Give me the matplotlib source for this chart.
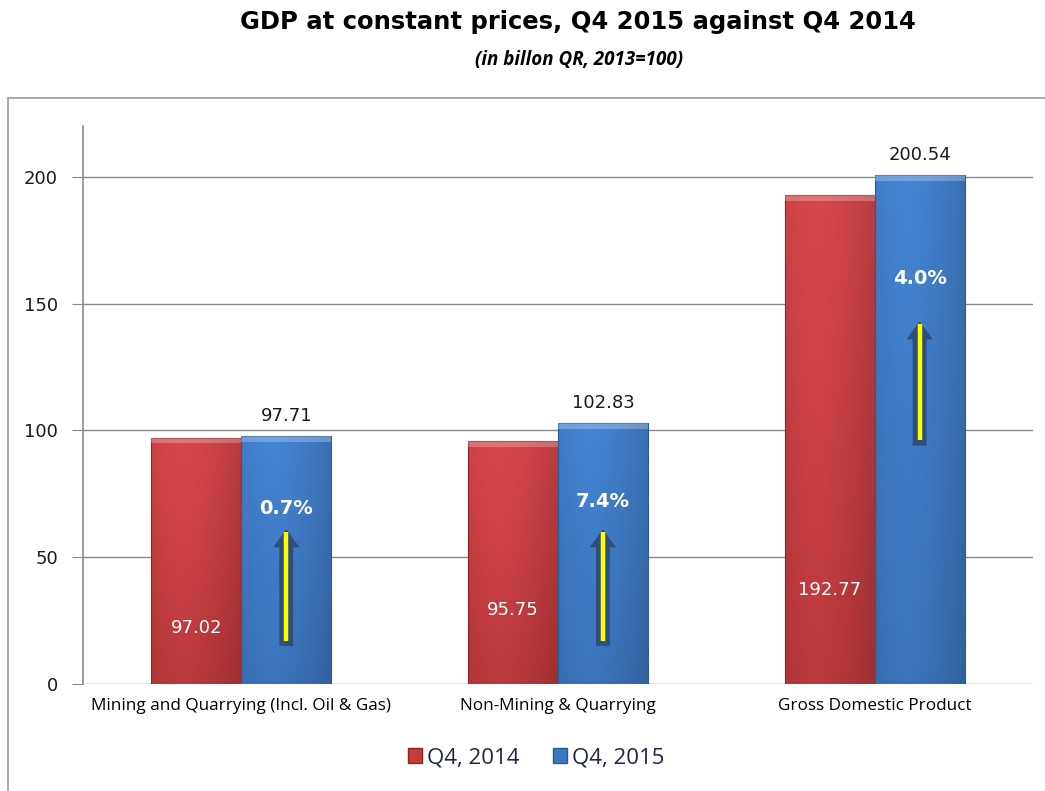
import numpy as np
import matplotlib.pyplot as plt
from matplotlib.patches import Rectangle

categories = ['Mining and Quarrying (Incl. Oil & Gas)', 'Non-Mining & Quarrying', 'Gross Domestic Product']
q4_2014 = [97.02, 95.75, 192.77]
q4_2015 = [97.71, 102.83, 200.54]
growth = ['0.7%', '7.4%', '4.0%']
series_names = ['Q4, 2014', 'Q4, 2015']

# where the arrows / inner labels sit (in data units)
arrow_span = [(15, 61), (15, 61), (94, 143)]
growth_y = [69, 72, 160]
red_label_y = [22, 29, 37]

red = '#C33B3A'
red_dark = '#8E2424'
blue = '#3B78C4'
blue_dark = '#2A5A98'


def gradient_bar(ax, x0, w, h, c_light, c_dark):
    # horizontal shading inside the bar, a bit like excel's 3d bevel
    grad = np.linspace(0, 1, 64)
    shade = 1 - 0.3 * np.abs(grad - 0.35) ** 1.5
    cl = np.array(plt.matplotlib.colors.to_rgb(c_light))
    cd = np.array(plt.matplotlib.colors.to_rgb(c_dark))
    vert = np.linspace(0, 1, 64)[:, None, None]
    img = cd + (cl - cd) * (0.6 + 0.4 * vert)
    img = img * shade[None, :, None]
    img = np.clip(img, 0, 1)
    im = ax.imshow(img, extent=(x0, x0 + w, 0, h), origin='lower', aspect='auto', zorder=3)
    r = Rectangle((x0, 0), w, h, facecolor='none', edgecolor=c_dark, lw=0.8, zorder=4)
    ax.add_patch(r)
    im.set_clip_path(r)
    # light bevel at top
    ax.add_patch(Rectangle((x0, h - 2.2), w, 2.2, facecolor='white', alpha=0.25, lw=0, zorder=4))


fig = plt.figure(figsize=(10.45, 7.91), dpi=100)
ax = fig.add_axes([0.0794, 0.1353, 0.9091, 0.7054])

# outer box
fig.patches.append(Rectangle((8 / 1045, -0.01), 1.02, (791 - 98) / 791 + 0.01,
                             transform=fig.transFigure, facecolor='none',
                             edgecolor='#9A9A9A', lw=1.2))

x = np.arange(len(categories))
w = 0.284
for i in range(len(categories)):
    gradient_bar(ax, x[i] - w, w, q4_2014[i], '#D9474A', red_dark)
    gradient_bar(ax, x[i], w, q4_2015[i], '#4585D3', blue_dark)

    ax.annotate(f'{q4_2015[i]:.2f}', (x[i] + w / 2, q4_2015[i]), xytext=(0, 8),
                textcoords='offset points', ha='center', va='bottom',
                fontsize=13, color='#1a1a1a', family='DejaVu Sans', zorder=6)
    ax.text(x[i] - w / 2, red_label_y[i], f'{q4_2014[i]:.2f}', ha='center', va='center',
            fontsize=13, color='white', family='DejaVu Sans', zorder=6)
    ax.text(x[i] + w / 2, growth_y[i], growth[i], ha='center', va='center',
            fontsize=14, fontweight='bold', color='white', family='DejaVu Sans', zorder=6)

    y0, y1 = arrow_span[i]
    ax.annotate('', xy=(x[i] + w / 2, y1), xytext=(x[i] + w / 2, y0),
                arrowprops=dict(arrowstyle='simple,head_length=1.3,head_width=1.9,tail_width=1.0',
                                color='#2F4F78', lw=0, shrinkA=0, shrinkB=0,
                                mutation_scale=10), zorder=5)
    ax.plot([x[i] + w / 2, x[i] + w / 2], [y0 + 2, y1 - 1], color='#FFFF00',
            lw=3.2, solid_capstyle='butt', zorder=6)

ax.set_xlim(-0.5, 2.5)
ax.set_ylim(0, 220)
ax.set_yticks([0, 50, 100, 150, 200])
ax.yaxis.grid(True, color='#8A8A8A', lw=1)
ax.set_axisbelow(True)
for s in ['top', 'right', 'bottom']:
    ax.spines[s].set_visible(False)
ax.spines['left'].set_color('#8A8A8A')
ax.spines['left'].set_linewidth(1.2)
ax.tick_params(axis='y', length=8, color='#8A8A8A', labelsize=13, pad=10, labelcolor='#1a1a1a')
for t in ax.get_yticklabels():
    t.set_family('DejaVu Sans')
ax.set_xticks(x)
ax.set_xticklabels(categories, fontsize=12.3, family='Open Sans')
ax.tick_params(axis='x', length=0, pad=10)

# legend
h1 = Rectangle((0, 0), 1, 1, facecolor=red, edgecolor=red_dark)
h2 = Rectangle((0, 0), 1, 1, facecolor=blue, edgecolor=blue_dark)
leg = fig.legend([h1, h2], series_names, loc='center', bbox_to_anchor=(536 / 1045, 1 - 758 / 791),
                 ncol=2, frameon=False, prop={'family': 'Open Sans', 'size': 16},
                 handlelength=0.65, handleheight=0.65, handletextpad=0.2, columnspacing=1.5)
for t in leg.get_texts():
    t.set_color('#1F2740')

fig.text(578 / 1045, 1 - 22 / 791, 'GDP at constant prices, Q4 2015 against Q4 2014',
         ha='center', va='center', fontsize=17.5, fontweight='bold', family='DejaVu Sans')
fig.text(579 / 1045, 1 - 60 / 791, '(in billon QR, 2013=100)', ha='center', va='center',
         fontsize=13.5, fontweight='bold', style='italic', family='Open Sans')

fig.savefig('out.png', dpi=100)
